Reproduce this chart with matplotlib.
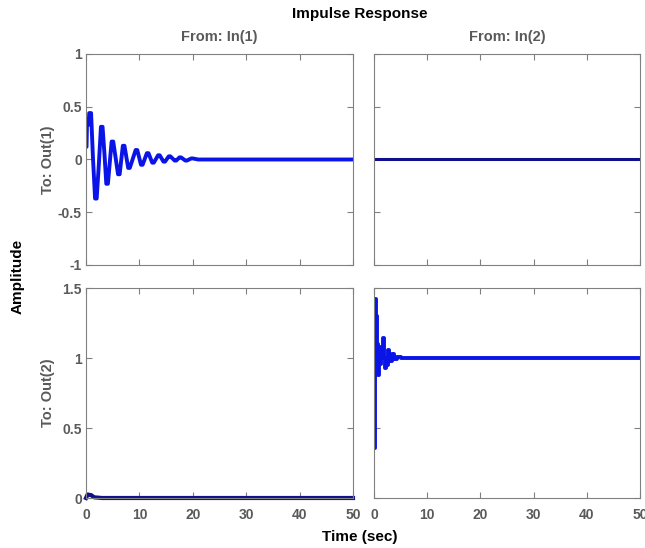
import numpy as np
import matplotlib
matplotlib.use("Agg")
import matplotlib.pyplot as plt

plt.rcParams['font.family'] = ['Liberation Sans', 'DejaVu Sans']
plt.rcParams['font.weight'] = 'bold'
plt.rcParams['axes.unicode_minus'] = False

# impulse response traces, one per input/output pair
t_11 = [0, 0.1, 0.2, 0.5, 0.6, 0.95, 1.3, 1.7, 2.0, 2.4, 2.8, 3.1, 3.5, 3.8, 4.1,
        4.8, 5.1, 6.0, 6.3, 6.9, 7.2, 7.9, 8.2, 9.3, 9.6, 10.3, 10.6, 11.4, 11.7,
        12.4, 12.7, 13.5, 13.8, 14.5, 14.8, 15.5, 15.8, 16.6, 16.9, 17.5, 17.8,
        18.6, 18.9, 19.7, 20.0, 21, 50]
y_11 = [0.12, 0.12, 0.38, 0.33, 0.44, 0.44, 0.02, -0.37, -0.37, -0.05, 0.31, 0.31,
        0.02, -0.23, -0.23, 0.17, 0.17, -0.14, -0.14, 0.13, 0.13, -0.08, -0.08,
        0.09, 0.09, -0.05, -0.05, 0.06, 0.06, -0.03, -0.03, 0.04, 0.04, -0.02,
        -0.02, 0.03, 0.03, -0.01, -0.01, 0.02, 0.02, -0.01, -0.01, 0.01, 0.01,
        0, 0]

t_12 = [0, 50]
y_12 = [0, 0]

t_21 = [0, 0.3, 1.0, 1.5, 3.0, 50]
y_21 = [0.0, 0.025, 0.02, 0.005, 0.0, 0.0]

t_22 = [0, 0.15, 0.4, 0.6, 0.8, 1.0, 1.3, 1.6, 1.9, 2.1, 2.3, 2.6, 2.9, 3.3,
        3.8, 4.3, 5.0, 50]
y_22 = [0.36, 1.42, 1.3, 1.1, 0.88, 0.96, 1.08, 1.14, 1.0, 0.93, 0.95, 1.06,
        0.98, 1.03, 0.99, 1.01, 1.0, 1.0]

xticks = [0, 10, 20, 30, 40, 50]
yticks_top = [-1, -0.5, 0, 0.5, 1]
ylabels_top = ['-1', '-0.5', '0', '0.5', '1']
yticks_bot = [0, 0.5, 1, 1.5]
ylabels_bot = ['0', '0.5', '1', '1.5']

fig = plt.figure(figsize=(6.45, 5.48), dpi=100)

W, H = 645.0, 548.0
cols = [(86, 353), (374, 640)]
rows = [(54, 265), (288, 498)]

grey = '#5a5a5a'
axes = {}
for r, (top, bot) in enumerate(rows):
    for c, (lft, rgt) in enumerate(cols):
        ax = fig.add_axes([lft / W, 1 - bot / H, (rgt - lft) / W, (bot - top) / H])
        ax.set_xlim(0, 50)
        ax.set_xticks(xticks)
        if r == 0:
            ax.set_ylim(-1, 1)
            ax.set_yticks(yticks_top)
            ax.set_yticklabels(ylabels_top)
        else:
            ax.set_ylim(0, 1.5)
            ax.set_yticks(yticks_bot)
            ax.set_yticklabels(ylabels_bot)
        ax.tick_params(direction='in', top=True, right=True, length=4,
                       color='#808080', labelcolor=grey, labelsize=10)
        ax.tick_params(axis='x', pad=7)
        ax.tick_params(axis='y', pad=3)
        if r == 0:
            ax.tick_params(labelbottom=False)
        if c == 1:
            ax.tick_params(labelleft=False)
        for s in ax.spines.values():
            s.set_color('#808080')
        axes[(r, c)] = ax

axes[(0, 0)].plot(t_11, y_11, color='#0a14e6', lw=2.8)
axes[(0, 1)].plot(t_12, y_12, color='#10108a', lw=2.2)
axes[(1, 0)].plot(t_21, y_21, color='#10108a', lw=3.0, clip_on=False)
axes[(1, 1)].plot(t_22, y_22, color='#0a14e6', lw=2.8, drawstyle='steps-post')

fig.text(360 / W, 1 - 14 / H, 'Impulse Response', ha='center', va='center',
         fontsize=11, color='black')
fig.text(219.5 / W, 1 - 37 / H, 'From: In(1)', ha='center', va='center',
         fontsize=10.5, color=grey)
fig.text(507 / W, 1 - 37 / H, 'From: In(2)', ha='center', va='center',
         fontsize=10.5, color=grey)
fig.text(18 / W, 1 - 276 / H, 'Amplitude', ha='center', va='center',
         rotation=90, fontsize=11, color='black')
fig.text(48 / W, 1 - 159.5 / H, 'To: Out(1)', ha='center', va='center',
         rotation=90, fontsize=10.5, color=grey)
fig.text(48 / W, 1 - 393 / H, 'To: Out(2)', ha='center', va='center',
         rotation=90, fontsize=10.5, color=grey)
fig.text(360 / W, 1 - 537 / H, 'Time (sec)', ha='center', va='center',
         fontsize=11, color='black')

fig.savefig('out.png', dpi=100)
